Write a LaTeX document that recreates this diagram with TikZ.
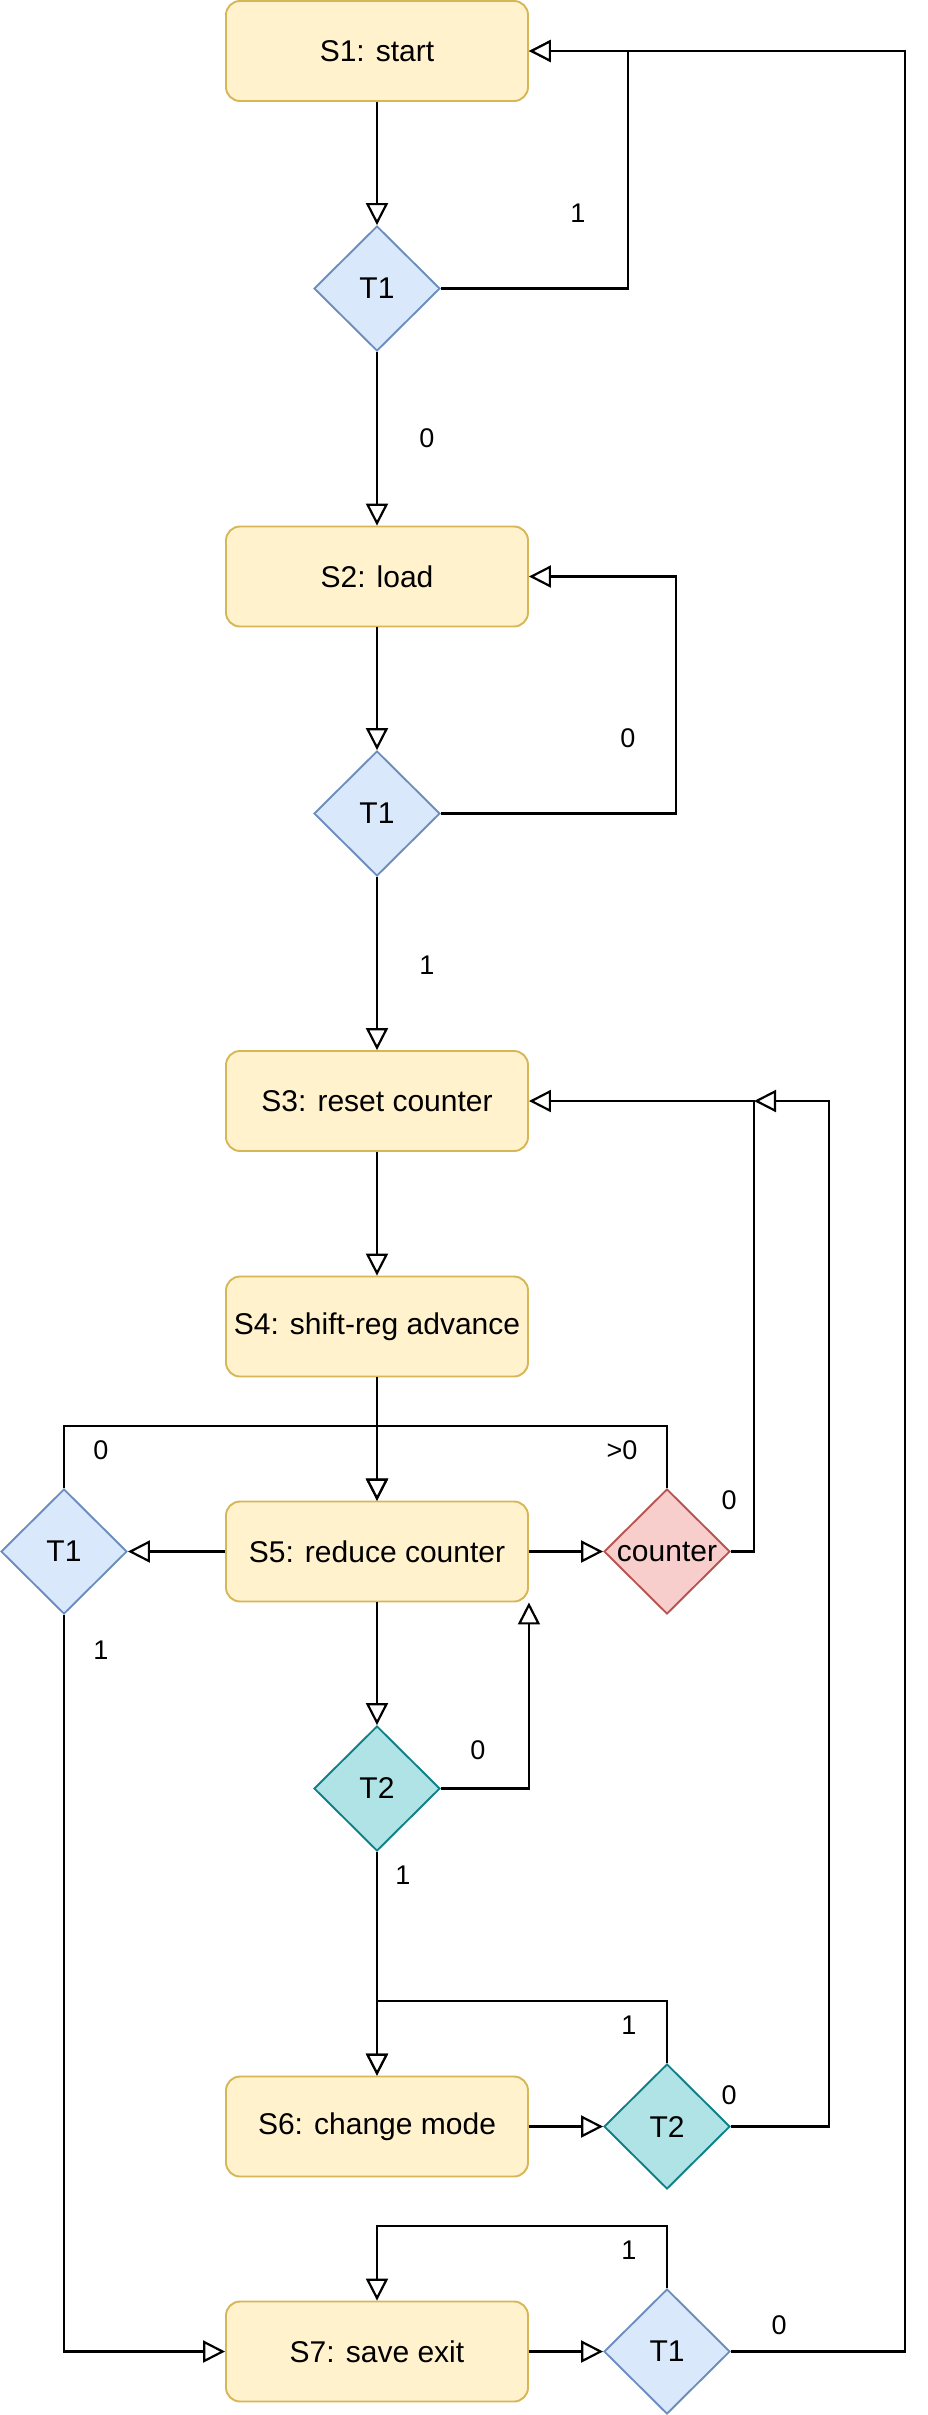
\documentclass[tikz,border=0pt]{standalone}
\usepackage{fontspec}
\setmainfont{Liberation Sans}
\usetikzlibrary{shapes.geometric,arrows.meta}
\definecolor{boxfill}{HTML}{FFF2CC}
\definecolor{boxdraw}{HTML}{D6B656}
\definecolor{bluefill}{HTML}{DAE8FC}
\definecolor{bluedraw}{HTML}{6C8EBF}
\definecolor{redfill}{HTML}{F8CECC}
\definecolor{reddraw}{HTML}{B85450}
\definecolor{tealfill}{HTML}{B0E3E6}
\definecolor{tealdraw}{HTML}{0E8088}
\tikzset{
  statebox/.style={draw=boxdraw, fill=boxfill, line width=1.9pt, rounded corners=14pt,
    minimum width=302pt, minimum height=100pt, inner sep=0pt,
    font=\fontsize{30}{36}\selectfont},
  dec/.style={diamond, aspect=1, line width=1.9pt, minimum width=126pt, minimum height=125pt,
    inner sep=0pt, font=\fontsize{30}{36}\selectfont},
  bluedec/.style={dec, draw=bluedraw, fill=bluefill},
  reddec/.style={dec, draw=reddraw, fill=redfill},
  tealdec/.style={dec, draw=tealdraw, fill=tealfill},
  conn/.style={line width=2.2pt, -{Triangle[fill=white, length=22pt, width=22pt]}},
  lbl/.style={font=\fontsize{27}{32}\selectfont, inner sep=0pt}
}
\begin{document}
\begin{tikzpicture}[x=1pt,y=-1pt]
\useasboundingbox (0,0) rectangle (928,2415);

% nodes
\node[statebox] (S1) at (377,51) {S1: start};
\node[bluedec] (T1a) at (377,288.5) {T1};
\node[statebox] (S2) at (377,576.5) {S2: load};
\node[bluedec] (T1b) at (377,813.5) {T1};
\node[statebox] (S3) at (377,1101) {S3: reset counter};
\node[statebox] (S4) at (377,1326.5) {S4: shift-reg advance};
\node[statebox] (S5) at (377,1551.5) {S5: reduce counter};
\node[bluedec] (T1l) at (64,1551.5) {T1};
\node[reddec] (Ctr) at (667,1551.5) {counter};
\node[tealdec] (T2a) at (377,1788.5) {T2};
\node[statebox] (S6) at (377,2126.5) {S6: change mode};
\node[tealdec] (T2b) at (667,2126.5) {T2};
\node[statebox] (S7) at (377,2351.5) {S7: save exit};
\node[bluedec] (T1c) at (667,2351.5) {T1};

% helper coordinates
\coordinate (k1) at (628,51);
\coordinate (k2) at (676,576.5);
\coordinate (k3) at (377,1426);
\coordinate (k4) at (754,1101);
\coordinate (k5) at (829,1101);
\coordinate (k6) at (377,2001);
\coordinate (k7) at (377,2226);
\coordinate (k8) at (905,51);

% connectors
\draw[conn] (S1) -- (T1a);
\draw[conn] (T1a.east) -| (k1) -- (S1.east);
\draw[conn] (T1a) -- (S2);
\draw[conn] (S2) -- (T1b);
\draw[conn] (T1b.east) -| (k2) -- (S2.east);
\draw[conn] (T1b) -- (S3);
\draw[conn] (S3) -- (S4);
\draw[conn] (S4) -- (S5);
\draw[conn] (S5.west) -- (T1l.east);
\draw[conn] (S5.east) -- (Ctr.west);
\draw[conn] (T1l.north) |- (k3) -- (S5.north);
\draw[conn] (Ctr.north) |- (k3) -- (S5.north);
\draw[conn] (Ctr.east) -| (k4) -- (S3.east);
\draw[conn] (S5) -- (T2a);
\draw[conn] (T2a.east) -| (S5.south east);
\draw[conn] (T2a) -- (S6);
\draw[conn] (S6.east) -- (T2b.west);
\draw[conn] (T2b.north) |- (k6) -- (S6.north);
\draw[conn] (T2b.east) -| (k5) -- (k4);
\draw[conn] (T1l.south) |- (S7.west);
\draw[conn] (S7.east) -- (T1c.west);
\draw[conn] (T1c.north) |- (k7) -- (S7.north);
\draw[conn] (T1c.east) -| (k8) -- (S1.east);

% labels
\node[lbl] (l1) at (578,213) {1};
\node[lbl] (l2) at (427,438) {0};
\node[lbl] (l3) at (628,738) {0};
\node[lbl] (l4) at (427,965) {1};
\node[lbl] (l5) at (101,1450) {0};
\node[lbl] (l6) at (622,1450) {>0};
\node[lbl] (l7) at (729,1500) {0};
\node[lbl] (l8) at (101,1650) {1};
\node[lbl] (l9) at (478,1750) {0};
\node[lbl] (l10) at (403,1875) {1};
\node[lbl] (l11) at (629,2025) {1};
\node[lbl] (l12) at (729,2095) {0};
\node[lbl] (l13) at (629,2250) {1};
\node[lbl] (l14) at (779,2325) {0};
\end{tikzpicture}
\end{document}
